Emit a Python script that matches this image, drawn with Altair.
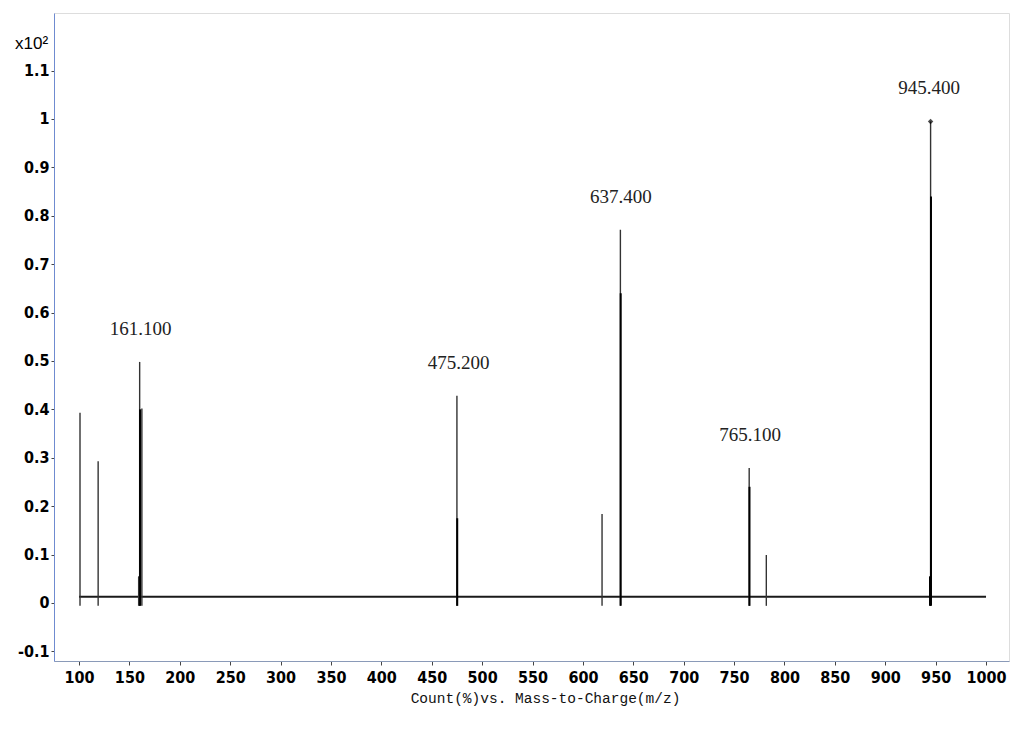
import altair as alt
import pandas as pd

# main peaks (m/z, relative count x10^2)
peak_mz = [101.0, 119.0, 159.2, 160.2, 162.4, 475.0, 619.0, 637.2, 765.0, 782.0, 945.0]
peak_h = [0.393, 0.293, 0.055, 0.498, 0.402, 0.428, 0.184, 0.771, 0.279, 0.099, 0.995]

# darker overlapping inner peaks
inner_mz = [160.6, 475.3, 637.5, 765.3, 945.4, 944.4]
inner_h = [0.40, 0.175, 0.64, 0.24, 0.84, 0.055]

# peak annotations
label_mz = [161.1, 476.7, 637.7, 766.0, 943.5]
label_h = [0.498, 0.428, 0.771, 0.279, 0.995]
label_txt = ["161.100", "475.200", "637.400", "765.100", "945.400"]

base_start, base_end, base_level, dip = 100.0, 1000.0, 0.013, -0.006

x_ticks = list(range(100, 1001, 50))
y_ticks = [-0.1, 0, 0.1, 0.2, 0.3, 0.4, 0.5, 0.6, 0.7, 0.8, 0.9, 1, 1.1]

peaks = pd.DataFrame({"mz": peak_mz, "h": peak_h, "lo": [dip] * len(peak_mz)})
inner = pd.DataFrame({"mz": inner_mz, "h": inner_h, "lo": [dip] * len(inner_mz)})
labels = pd.DataFrame({"mz": label_mz, "h": label_h, "t": label_txt})
base = pd.DataFrame({"x1": [base_start], "x2": [base_end], "y": [base_level]})
top = pd.DataFrame({"mz": [peak_mz[-1]], "h": [peak_h[-1]]})

xs = alt.Scale(domain=[75.2, 1022.8], nice=False, zero=False)
ys = alt.Scale(domain=[-0.12, 1.219], nice=False, zero=False)

lab_font = "DejaVu Sans Condensed, Liberation Sans Narrow, Liberation Sans"

x_axis = alt.Axis(values=x_ticks, labelExpr="'' + datum.value",
                  title="Count(%)vs. Mass-to-Charge(m/z)",
                  titleFont="Liberation Mono", titleFontSize=14.5, titleFontWeight="normal",
                  titleColor="#111", titlePadding=6, titleX=491,
                  labelFont=lab_font, labelFontSize=16, labelFontWeight="bold", labelColor="#000",
                  labelPadding=4, tickSize=4, tickColor="#444", domainColor="#8a9ab8",
                  grid=False, labelFlush=False)
y_axis = alt.Axis(values=y_ticks, labelExpr="'' + datum.value",
                  title="x10²", titleAngle=0, titleAlign="center", titleBaseline="middle",
                  titleX=-23, titleY=30, titleFont="Liberation Sans", titleFontSize=17,
                  titleFontWeight="normal", titleColor="#000",
                  labelFont=lab_font, labelFontSize=16, labelFontWeight="bold", labelColor="#000",
                  labelPadding=2, tickSize=3, tickColor="#444", domainColor="#6f8bd0",
                  grid=False)

baseline = alt.Chart(base).mark_rule(color="#1a1a1a", strokeWidth=2).encode(
    x=alt.X("x1:Q", scale=xs, axis=x_axis), x2="x2:Q",
    y=alt.Y("y:Q", scale=ys, axis=y_axis))

main = alt.Chart(peaks).mark_rule(color="#333", strokeWidth=1.4).encode(
    x=alt.X("mz:Q", scale=xs), y=alt.Y("lo:Q", scale=ys), y2="h:Q")

inn = alt.Chart(inner).mark_rule(color="#000", strokeWidth=2).encode(
    x=alt.X("mz:Q", scale=xs), y=alt.Y("lo:Q", scale=ys), y2="h:Q")

diamond = alt.Chart(top).mark_point(shape="diamond", filled=True, color="#000", size=30).encode(
    x=alt.X("mz:Q", scale=xs), y=alt.Y("h:Q", scale=ys))

txt = alt.Chart(labels).mark_text(font="Liberation Serif", fontSize=19, color="#222",
                                  baseline="middle", dy=-33).encode(
    x=alt.X("mz:Q", scale=xs), y=alt.Y("h:Q", scale=ys), text="t:N")

chart = alt.layer(baseline, main, inn, diamond, txt).properties(
    width=955, height=648,
    autosize=alt.AutoSizeParams(type="none"),
    padding={"left": 46, "top": 5, "right": 7, "bottom": 50},
).configure_view(stroke="#6f8bd0", strokeWidth=1.2).configure(background="white")

chart.save("out.html", embed_options={"renderer": "svg", "actions": False})
